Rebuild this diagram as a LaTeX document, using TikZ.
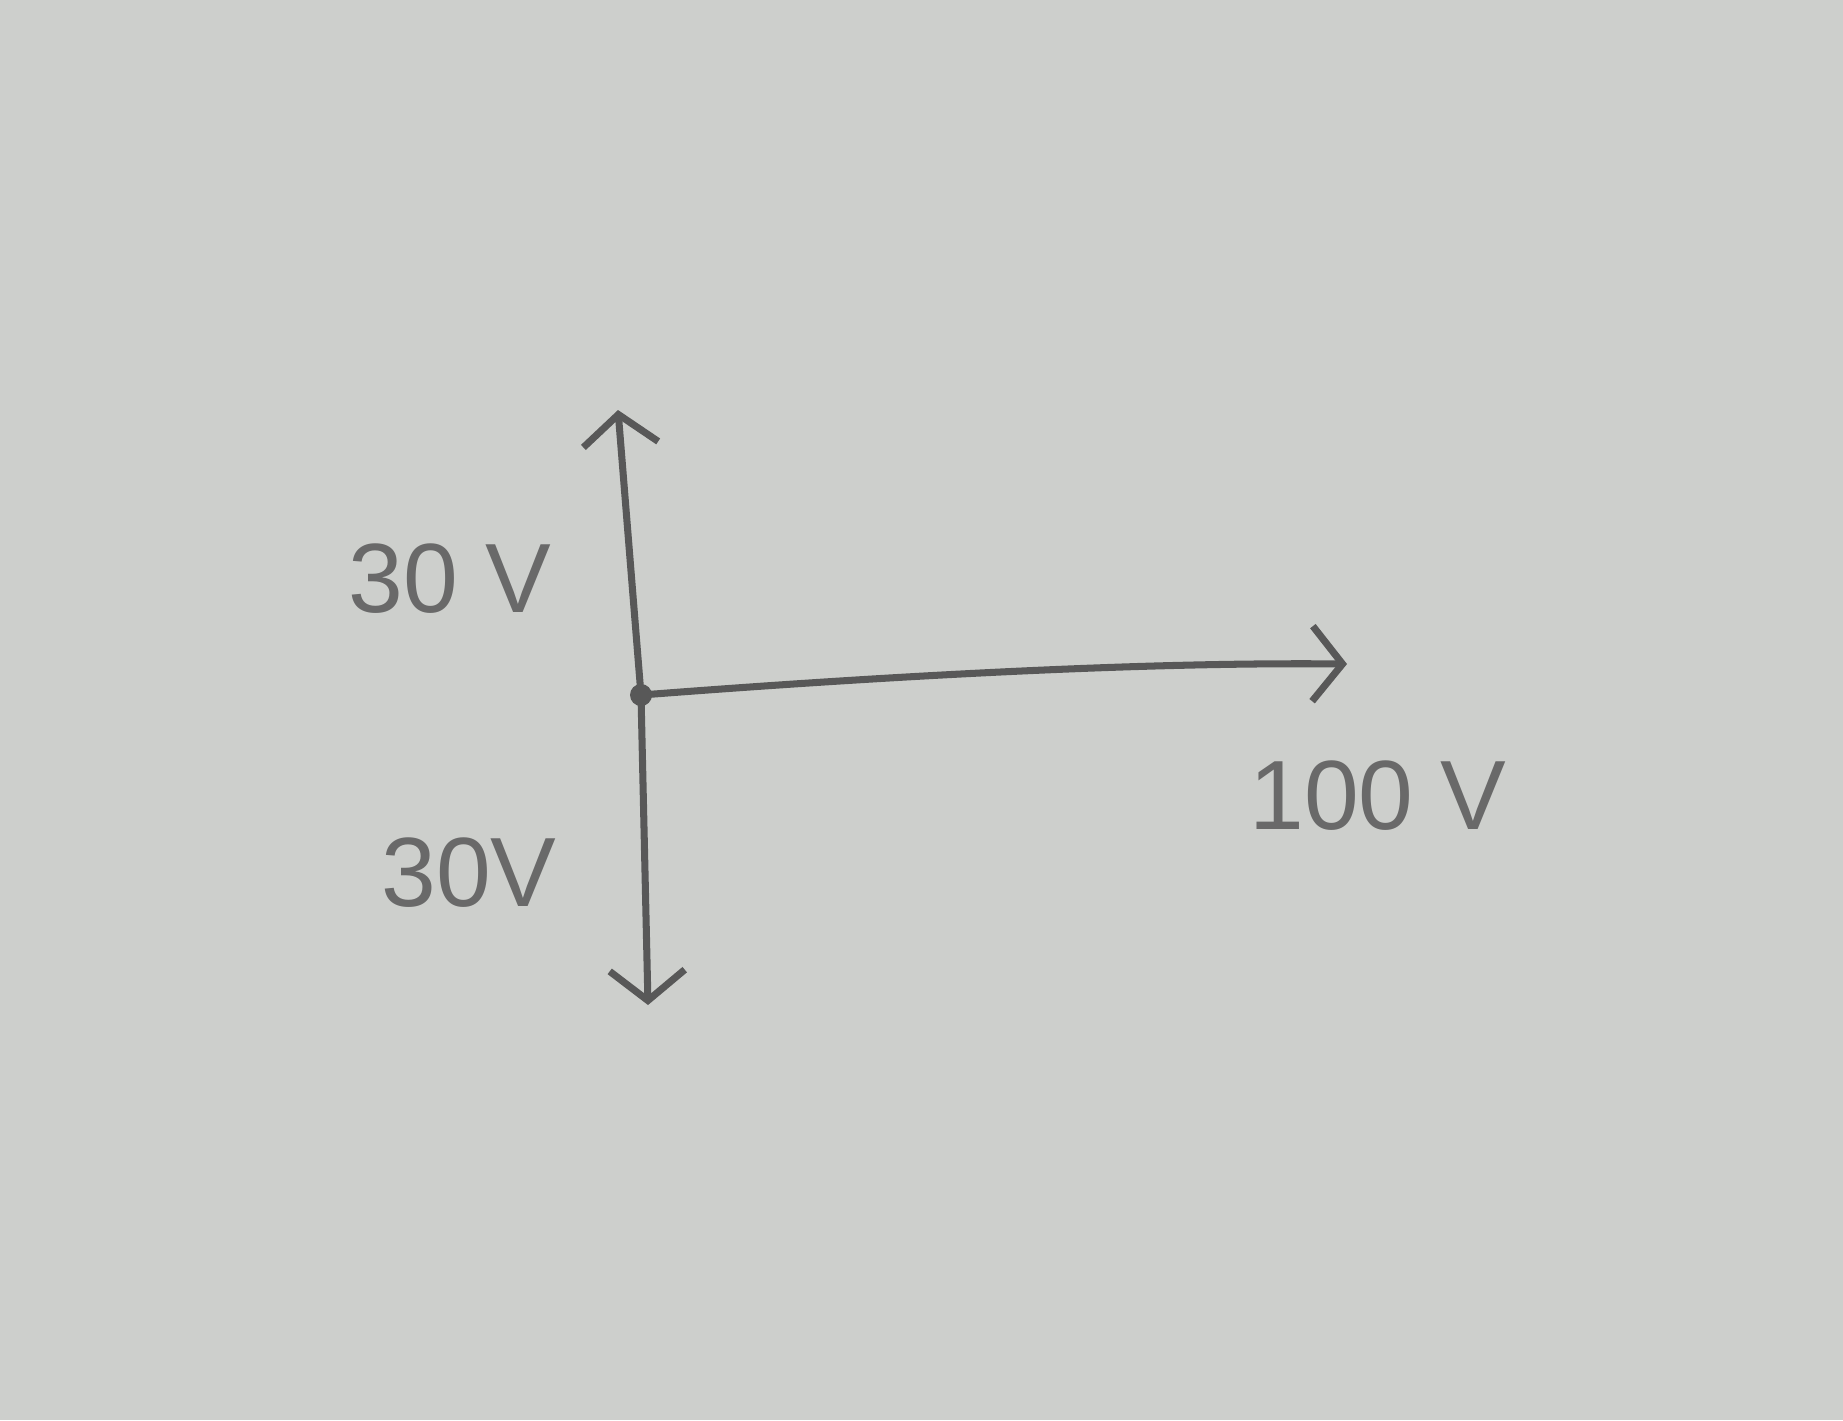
\documentclass[tikz,border=0pt]{standalone}
\usepackage{fontspec}
\setmainfont{Liberation Sans}
\usetikzlibrary{arrows.meta}
\definecolor{paper}{RGB}{205,207,204}
\definecolor{pencil}{RGB}{88,88,88}
\definecolor{pentext}{RGB}{105,105,105}
\tikzset{
  vec/.style={draw=pencil, line width=2pt, line cap=round,
    -{Straight Barb[length=0.3cm, width=0.75cm, line width=2pt]}},
  lbl/.style={text=pentext, font=\fontsize{28}{30}\selectfont, inner sep=0pt}
}
\begin{document}
\begin{tikzpicture}[x=0.01cm, y=-0.01cm]
  \fill[paper] (0,0) rectangle (1843,1420);
  \useasboundingbox (0,0) rectangle (1843,1420);
  \coordinate (o) at (641,695);
  \coordinate (top) at (618,410);
  \coordinate (bot) at (648,1005);
  \coordinate (right) at (1347,664);
  \draw[vec] (o) -- (top);
  \draw[vec] (o) -- (bot);
  \draw[vec] (o) .. controls (900,675) and (1150,662) .. (right);
  \fill[pencil] (o) circle (11);
  \node[lbl] (l1) at (450,579) {30 V};
  \node[lbl] (l2) at (469,873) {30V};
  \node[lbl] (l3) at (1378,796) {100 V};
\end{tikzpicture}
\end{document}
